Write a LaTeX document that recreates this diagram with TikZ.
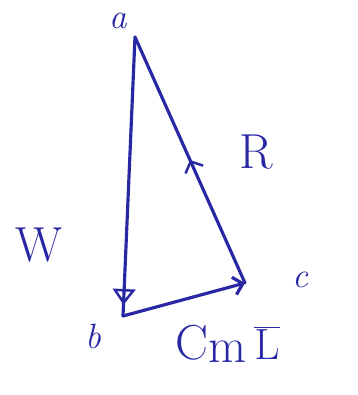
\documentclass[tikz,border=0pt]{standalone}
\usetikzlibrary{arrows.meta, decorations.markings, positioning}
\definecolor{tinta}{RGB}{40,40,165}

\begin{document}
\begin{tikzpicture}[
    >=Straight Barb,
    every node/.style={text=tinta, inner sep=1pt},
    lado/.style={draw=tinta, line width=1.8pt, line cap=round},
    flecha en/.style 2 args={postaction={decorate}, decoration={markings,
        mark=at position #1 with {\arrow[tinta, line width=1.4pt]{#2}}}},
    letra/.style={font=\fontsize{20}{22}\selectfont\itshape},
    rotulo/.style={font=\fontsize{28}{30}\selectfont}
]
\useasboundingbox (0,0) rectangle (7.16,7.9);

% ---- vertices del triangulo ----
\coordinate (a) at (2.70,7.16);
\coordinate (b) at (2.46,1.58);
\coordinate (c) at (4.90,2.24);

% ---- letras de los vertices ----
\node[letra] (la) at (2.36,7.48) {a};
\node[letra] (lb) at (1.86,1.18) {b};
\node[letra] (lc) at (6.00,2.30) {c};

% ---- lados con sus flechas ----
\draw[lado, flecha en={0.96}{Triangle[open, length=9pt, width=13pt]}] (a) -- (b);
\draw[lado, ->] (b) -- (c);
\draw[lado, flecha en={0.50}{Straight Barb[length=5pt, width=11pt]}] (c) -- (a);

% ---- fuerzas ----
\node[rotulo] (W) at (0.78,3.00) {W};
\node[rotulo] (R) at (5.12,4.86) {R};
\node[rotulo] (CmL) at (4.55,1.02) {C\raisebox{-2pt}{m}\,$\overline{\mathrm{L}}$};

\end{tikzpicture}
\end{document}
